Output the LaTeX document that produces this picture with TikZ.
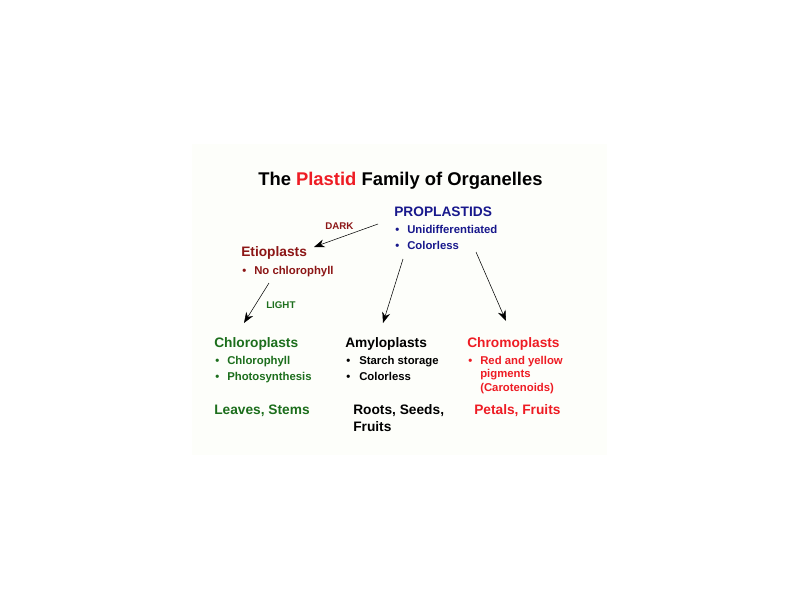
\documentclass[tikz,border=0pt]{standalone}
\usepackage{fontspec}
\setmainfont{Liberation Sans}
\usetikzlibrary{arrows.meta}
\definecolor{problue}{RGB}{24,24,140}
\definecolor{etiored}{RGB}{140,22,22}
\definecolor{chlgreen}{RGB}{28,110,28}
\definecolor{chrred}{RGB}{238,28,36}
\definecolor{slide}{RGB}{253,254,250}
\tikzset{>={Stealth[length=8pt,width=6pt]}, line width=1.4pt}
\tikzset{
  txt/.style={anchor=base west, inner sep=0pt},
  titletxt/.style={txt, font=\fontsize{13.8}{16}\selectfont\bfseries},
  headtxt/.style={txt, font=\fontsize{10.3}{12}\selectfont\bfseries},
  itemtxt/.style={txt, font=\fontsize{8.5}{9.75}\selectfont\bfseries},
  tagtxt/.style={txt, font=\fontsize{7.3}{8}\selectfont\bfseries},
}
\begin{document}
\begin{tikzpicture}[x=0.75pt,y=-0.75pt]
  \useasboundingbox (0,0) rectangle (800,600);
  \fill[slide] (192,144) rectangle (607,455);

  % Title
  \node[titletxt] (title) at (258,185)
    {The \textcolor{chrred}{Plastid} Family of Organelles};

  % Proplastids
  \node[headtxt,text=problue] (prop) at (394,216) {PROPLASTIDS};
  \node[itemtxt,text=problue] (propb1) at (395,233) {\textbullet};
  \node[itemtxt,text=problue] (propi1) at (407,233) {Unidifferentiated};
  \node[itemtxt,text=problue] (propb2) at (395,249) {\textbullet};
  \node[itemtxt,text=problue] (propi2) at (407,249) {Colorless};

  % Etioplasts
  \node[headtxt,text=etiored] (etio) at (241,256) {Etioplasts};
  \node[itemtxt,text=etiored] (etiob1) at (242,274) {\textbullet};
  \node[itemtxt,text=etiored] (etioi1) at (254,274) {No chlorophyll};

  % Chloroplasts
  \node[headtxt,text=chlgreen] (chl) at (214,347) {Chloroplasts};
  \node[itemtxt,text=chlgreen] (chlb1) at (215,364) {\textbullet};
  \node[itemtxt,text=chlgreen] (chli1) at (227,364) {Chlorophyll};
  \node[itemtxt,text=chlgreen] (chlb2) at (215,380) {\textbullet};
  \node[itemtxt,text=chlgreen] (chli2) at (227,380) {Photosynthesis};
  \node[headtxt,text=chlgreen] (chlwhere) at (214,414) {Leaves, Stems};

  % Amyloplasts
  \node[headtxt] (amy) at (345,347) {Amyloplasts};
  \node[itemtxt] (amyb1) at (346,364) {\textbullet};
  \node[itemtxt] (amyi1) at (359,364) {Starch storage};
  \node[itemtxt] (amyb2) at (346,380) {\textbullet};
  \node[itemtxt] (amyi2) at (359,380) {Colorless};
  \node[headtxt] (amywhere) at (353,414) {Roots, Seeds,};
  \node[headtxt] (amywhere2) at (353,431) {Fruits};

  % Chromoplasts
  \node[headtxt,text=chrred] (chr) at (467,347) {Chromoplasts};
  \node[itemtxt,text=chrred] (chrb1) at (468,364) {\textbullet};
  \node[itemtxt,text=chrred] (chri1) at (480,364) {Red and yellow};
  \node[itemtxt,text=chrred] (chri1b) at (480,377.5) {pigments};
  \node[itemtxt,text=chrred] (chri1c) at (480,391) {(Carotenoids)};
  \node[headtxt,text=chrred] (chrwhere) at (474,414) {Petals, Fruits};

  % light conditions
  \node[tagtxt,text=etiored] (dark) at (325,229) {DARK};
  \node[tagtxt,text=chlgreen] (light) at (266,308) {LIGHT};

  % arrow ends
  \coordinate (darkfrom) at (378,224);
  \coordinate (darkto) at (314,247);
  \coordinate (lightfrom) at (269,283);
  \coordinate (lightto) at (244,323);
  \coordinate (amyfrom) at (403,259);
  \coordinate (amyto) at (383,323);
  \coordinate (chrfrom) at (476,252);
  \coordinate (chrto) at (506,321);

  \draw[->] (darkfrom) -- (darkto);
  \draw[->] (lightfrom) -- (lightto);
  \draw[->] (amyfrom) -- (amyto);
  \draw[->] (chrfrom) -- (chrto);
\end{tikzpicture}
\end{document}
